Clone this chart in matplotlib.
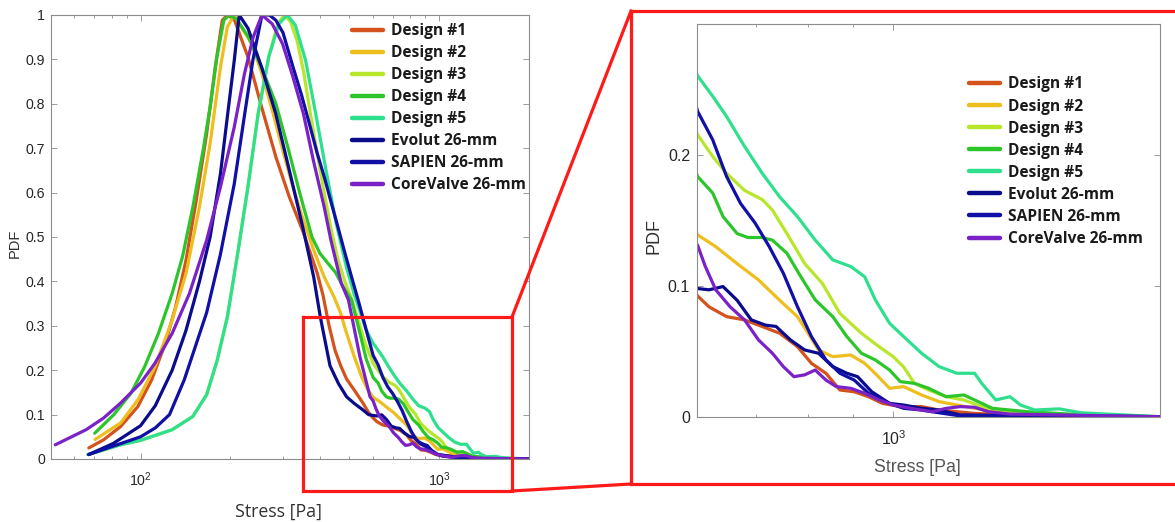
import matplotlib
matplotlib.use("Agg")
import matplotlib.pyplot as plt
from matplotlib.lines import Line2D
from matplotlib.ticker import FixedLocator, FuncFormatter, LogLocator, NullFormatter
import numpy as np

# ---------------- data ----------------
labels = ["Design #1", "Design #2", "Design #3", "Design #4", "Design #5",
          "Evolut 26-mm", "SAPIEN 26-mm", "CoreValve 26-mm"]
colors = ["#D4521C", "#EDBE1E", "#B8E62A", "#2CC52A", "#2EE08E",
          "#0B0B8E", "#1010A6", "#7A22C8"]

d1_x = [67.1, 75.1, 85.7, 97.9, 108.9, 121.1, 131.1, 142, 153.7, 166.5, 177.9, 187.8, 195.3, 206, 229, 255, 284, 315,
        351, 390, 408, 428, 448, 468, 490, 520, 557, 580,
        601, 619, 648, 679, 711, 744, 779, 808, 839, 870, 903, 937, 972, 1018, 1076, 1126, 1235, 1484, 2000]
d1_y = [0.025, 0.043, 0.073, 0.118, 0.178, 0.261, 0.343, 0.448, 0.583, 0.733, 0.883, 0.988, 1.0, 0.99, 0.905, 0.79, 0.68, 0.59,
        0.51, 0.42, 0.37, 0.30, 0.245, 0.21, 0.18, 0.155, 0.125, 0.105,
        0.0923, 0.084, 0.0765, 0.074, 0.0689, 0.0638, 0.0536, 0.0408, 0.0332, 0.0204, 0.0191, 0.0153, 0.0102, 0.0077, 0.0077, 0.0051, 0.0025, 0.0005, 0.0]

d2_x = [70.4, 85.7, 97.9, 111.8, 127.6, 142, 157.5, 171, 185.2, 195.3, 206, 217.3, 235.2, 254.9, 276, 299.1, 323.7,
        350.9, 380, 411.6, 444, 467, 490, 520, 550, 578,
        601, 630, 666, 704, 744, 779, 801, 823, 854, 895, 928, 954, 990, 1027, 1076, 1126, 1179, 1293, 1484, 2000]
d2_y = [0.044, 0.081, 0.133, 0.208, 0.313, 0.418, 0.568, 0.711, 0.883, 0.973, 1.0, 0.973, 0.936, 0.868, 0.786, 0.696, 0.613,
        0.538, 0.471, 0.411, 0.366, 0.33, 0.283, 0.23, 0.185, 0.155,
        0.139, 0.130, 0.117, 0.1046, 0.089, 0.0765, 0.0638, 0.051, 0.0459, 0.0472, 0.0408, 0.033, 0.0217, 0.023, 0.0166, 0.0115, 0.009, 0.004, 0.0013, 0.0]

d3_x = [66.6, 85.7, 100, 127.6, 149.7, 166.5, 180.2, 195.3, 211.5, 228.9, 247.7, 268.8, 288, 303, 318, 335, 352, 370, 390, 412,
        434, 458, 483, 509, 537, 566,
        601, 625, 648, 679, 711, 730, 758, 794, 831, 870, 920, 963, 999, 1027, 1056, 1096, 1147, 1201, 1258, 1354, 1484, 2000]
d3_y = [0.010, 0.032, 0.042, 0.066, 0.096, 0.145, 0.22, 0.32, 0.463, 0.613, 0.778, 0.906, 0.98, 1.0, 0.985, 0.94, 0.87, 0.78, 0.69, 0.60,
        0.52, 0.45, 0.40, 0.36, 0.31, 0.26,
        0.2155, 0.199, 0.186, 0.173, 0.166, 0.158, 0.140, 0.117, 0.102, 0.079, 0.0638, 0.0536, 0.046, 0.038, 0.0255, 0.0204, 0.0153, 0.0128, 0.0077, 0.0038, 0.002, 0.0]

d4_x = [70.2, 81.3, 92.8, 103.2, 114.8, 127.6, 138.2, 149.7, 162, 171, 180.2, 190, 198, 210, 230, 255, 284, 312,
        341, 375, 399, 425, 450, 475, 509, 543, 570,
        601, 625, 642, 666, 685, 711, 730, 758, 786, 816, 854, 886, 920, 954, 990, 1018, 1056, 1096, 1147, 1201, 1235, 1293, 1417, 1628, 2000]
d4_y = [0.058, 0.0997, 0.148, 0.208, 0.283, 0.373, 0.456, 0.568, 0.696, 0.793, 0.906, 0.988, 1.0, 0.99, 0.95, 0.88, 0.80, 0.70,
        0.60, 0.50, 0.463, 0.44, 0.42, 0.39, 0.358, 0.283, 0.225,
        0.1836, 0.171, 0.153, 0.140, 0.137, 0.137, 0.135, 0.125, 0.107, 0.0893, 0.0765, 0.0612, 0.0485, 0.0434, 0.0357, 0.0268, 0.0255, 0.0217, 0.0153, 0.0166, 0.0128, 0.0064, 0.0038, 0.0015, 0.0]

d5_x = [66.6, 85.7, 100, 127.6, 149.7, 166.5, 180.2, 195.3, 211.5, 228.9, 247.7, 268.8, 290.7, 310, 330, 357, 386, 418, 452, 490,
        520, 545, 570,
        601, 625, 648, 679, 711, 744, 779, 816, 854, 895, 928, 954, 990, 1027, 1076, 1126, 1179, 1235, 1258, 1305, 1354, 1392, 1444, 1540, 1628, 2000]
d5_y = [0.010, 0.032, 0.042, 0.066, 0.096, 0.145, 0.22, 0.32, 0.463, 0.613, 0.778, 0.906, 0.98, 1.0, 0.977, 0.898, 0.778, 0.65, 0.531, 0.43,
        0.37, 0.33, 0.29,
        0.2606, 0.245, 0.2295, 0.2066, 0.186, 0.168, 0.153, 0.135, 0.1199, 0.1148, 0.107, 0.0893, 0.0714, 0.0612, 0.0485, 0.0383, 0.0332, 0.0332, 0.0255, 0.0128, 0.0153, 0.0089, 0.0051, 0.006, 0.003, 0.0]

ev_x = [67, 81, 100, 112, 127.6, 142, 157.5, 171, 185.2, 195.3, 206, 214, 229, 255, 283, 315, 350, 380, 400, 431,
        460, 490, 520, 557, 580,
        601, 619, 642, 666, 691, 717, 737, 765, 794, 823, 854, 886, 911, 945, 990, 1027, 1076, 1126, 1190, 2000]
ev_y = [0.01, 0.035, 0.075, 0.12, 0.20, 0.29, 0.40, 0.50, 0.643, 0.771, 0.898, 1.0, 0.97, 0.88, 0.78, 0.65, 0.52, 0.41, 0.32, 0.21,
        0.17, 0.14, 0.125, 0.11, 0.10,
        0.098, 0.097, 0.0995, 0.089, 0.074, 0.070, 0.069, 0.0587, 0.051, 0.0485, 0.0383, 0.0332, 0.0306, 0.0191, 0.0102, 0.0089, 0.0064, 0.0051, 0.0013, 0.0]

sa_x = [67, 86, 100, 112, 125, 140, 152, 166.5, 185, 206, 223, 238, 255, 270, 284, 300, 324, 346, 370, 390, 412,
        434, 458, 483, 509, 537, 566,
        601, 625, 648, 672, 698, 724, 751, 779, 808, 839, 870, 903, 937, 990, 1027, 1076, 1126, 1179, 2000]
sa_y = [0.01, 0.035, 0.05, 0.07, 0.10, 0.178, 0.25, 0.33, 0.46, 0.62, 0.775, 0.90, 1.0, 1.0, 0.988, 0.96, 0.883, 0.82, 0.748, 0.69, 0.636,
        0.58, 0.523, 0.465, 0.41, 0.355, 0.298,
        0.2334, 0.2117, 0.1836, 0.163, 0.148, 0.130, 0.1097, 0.0842, 0.0612, 0.0434, 0.0332, 0.028, 0.0179, 0.0102, 0.0064, 0.0051, 0.003, 0.001, 0.0]

cv_x = [51.8, 65.7, 75.1, 85.7, 100, 111.8, 127.6, 145.8, 166.5, 185.2, 206, 222.9, 238.3, 254.9, 276, 299, 324, 351, 379, 412,
        434, 470, 497, 543, 587,
        601, 613, 630, 654, 679, 704, 730, 751, 772, 794, 816, 839, 862, 895, 928, 963, 999, 1046, 1106, 1147, 1190, 1235, 1281, 1354, 2000]
cv_y = [0.032, 0.066, 0.092, 0.126, 0.171, 0.216, 0.283, 0.373, 0.493, 0.613, 0.748, 0.868, 0.95, 1.0, 0.98, 0.935, 0.86, 0.778, 0.673, 0.568,
        0.493, 0.396, 0.358, 0.23, 0.14,
        0.131, 0.115, 0.097, 0.084, 0.074, 0.0587, 0.0485, 0.0383, 0.0306, 0.032, 0.0357, 0.028, 0.023, 0.0217, 0.0179, 0.0128, 0.009, 0.0064, 0.0038, 0.0064, 0.0077, 0.0072, 0.0038, 0.002, 0.0]

series_x = [d1_x, d2_x, d3_x, d4_x, d5_x, ev_x, sa_x, cv_x]
series_y = [d1_y, d2_y, d3_y, d4_y, d5_y, ev_y, sa_y, cv_y]

left_yticks = [0, 0.1, 0.2, 0.3, 0.4, 0.5, 0.6, 0.7, 0.8, 0.9, 1]
right_yticks = [0, 0.1, 0.2]

# ---------------- figure ----------------
W, H = 1175, 522
fig = plt.figure(figsize=(W / 100, H / 100), dpi=100)

def px_rect(x0, y0, x1, y1):
    return [x0 / W, 1 - y1 / H, (x1 - x0) / W, (y1 - y0) / H]

axL = fig.add_axes(px_rect(50.7, 15, 529, 459))
axR = fig.add_axes(px_rect(697, 24.3, 1160, 416.7))

tick_col = "#262626"
spine_col = "#8C8C8C"

def yfmt(v, pos):
    s = ("%.1f" % v)
    if s.endswith(".0"):
        s = s[:-2]
    return s

for ax in (axL, axR):
    for i in range(len(labels)):
        ax.plot(series_x[i], series_y[i], color=colors[i], lw=2.3, label=labels[i],
                solid_capstyle="round", solid_joinstyle="round")
    ax.set_xscale("log")
    for sp in ax.spines.values():
        sp.set_color(spine_col)
        sp.set_linewidth(0.8)
    ax.tick_params(which="both", direction="in", top=True, right=True, colors=spine_col,
                   labelcolor=tick_col)
    ax.tick_params(which="major", length=4, width=0.6)
    ax.tick_params(which="minor", length=2.5, width=0.6)
    ax.xaxis.set_minor_formatter(NullFormatter())
    ax.yaxis.set_major_formatter(FuncFormatter(yfmt))

axL.set_xlim(50, 2000)
axL.set_ylim(0, 1)
axL.yaxis.set_major_locator(FixedLocator(left_yticks))
axL.xaxis.set_major_locator(LogLocator(base=10, numticks=10))
axL.xaxis.set_minor_locator(LogLocator(base=10, subs=np.arange(2, 10), numticks=20))
axL.tick_params(axis="y", labelsize=10.2, pad=4)
axL.tick_params(axis="x", labelsize=10.2, pad=8)
for lab in axL.get_xticklabels() + axL.get_yticklabels():
    lab.set_fontfamily("Liberation Sans")

axR.set_xlim(600, 2000)
axR.set_ylim(0, 0.3)
axR.yaxis.set_major_locator(FixedLocator(right_yticks))
axR.xaxis.set_major_locator(FixedLocator([1000]))
axR.xaxis.set_minor_locator(LogLocator(base=10, subs=np.arange(2, 10), numticks=20))
axR.tick_params(axis="y", labelsize=11.5, pad=5)
axR.tick_params(axis="x", labelsize=11.5, pad=9)
for lab in axR.get_xticklabels() + axR.get_yticklabels():
    lab.set_fontfamily("Liberation Sans")

# axis labels
fig.text(278 / W, 1 - 512 / H, "Stress [Pa]", ha="center", va="center", fontsize=12.8,
         family="Open Sans", color="#303030")
fig.text(15 / W, 1 - 243 / H, "PDF", ha="center", va="center", rotation=90, fontsize=10.5,
         family="Liberation Sans", color="#303030")
fig.text(917 / W, 1 - 468 / H, "Stress [Pa]", ha="center", va="center", fontsize=12.8,
         family="Liberation Sans", color="#555555")
fig.text(654 / W, 1 - 236 / H, "PDF", ha="center", va="center", rotation=90, fontsize=13,
         family="Liberation Sans", color="#303030")

# legends
legkw = dict(frameon=False, handlelength=2.0, handletextpad=0.5, labelspacing=0.39,
             borderpad=0, borderaxespad=0, prop=dict(family="Open Sans", weight="bold", size=11.2))
legL = axL.legend(loc="upper left", bbox_to_anchor=(352 / W, 1 - 23 / H),
                  bbox_transform=fig.transFigure, **legkw)
legR = axR.legend(loc="upper left", bbox_to_anchor=(969 / W, 1 - 76.5 / H),
                  bbox_transform=fig.transFigure, **legkw)
for leg in (legL, legR):
    for t in leg.get_texts():
        t.set_color("#1a1a1a")
    for h in leg.legend_handles:
        h.set_linewidth(3.2)

# red zoom boxes
red = "#FF1A1A"
lw_red = 2.3
def fig_line(xs, ys):
    fig.add_artist(Line2D([x / W for x in xs], [1 - y / H for y in ys], color=red, lw=lw_red,
                          transform=fig.transFigure, solid_joinstyle="miter"))

fig_line([303, 512, 512, 303, 303], [317, 317, 491, 491, 317])
fig_line([512, 631], [317, 11])
fig_line([512, 631], [491, 484])
fig_line([1176, 631, 631, 1176], [11, 11, 484, 484])

fig.savefig("out.png", dpi=100)
